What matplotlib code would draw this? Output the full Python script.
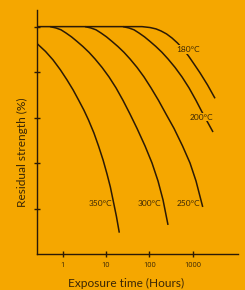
import matplotlib
matplotlib.use("Agg")
import matplotlib.pyplot as plt

# ---- data ----
temps = ["350°C", "300°C", "250°C", "200°C", "180°C"]

hours_350 = [0.251, 0.401, 0.597, 0.885, 1.256, 1.738, 2.317, 3.069, 3.936,
             5.248, 6.699, 8.551, 10.52, 12.56, 14.49, 17.34, 20.23]
strength_350 = [92.7, 89.1, 85.4, 81.0, 76.6, 72.2, 67.8, 63.4, 59.0,
                53.3, 47.6, 41.4, 35.3, 29.6, 23.9, 16.7, 9.5]

hours_300 = [0.509, 0.700, 0.914, 1.192, 1.596, 2.138, 2.910, 4.046, 5.567,
             8.072, 11.71, 16.99, 24.64, 35.74, 51.86, 79.32, 115.1, 158.3,
             206.5, 269.3]
strength_300 = [100.0, 99.4, 98.6, 97.2, 95.5, 93.5, 91.3, 88.7, 85.8,
                82.1, 77.9, 73.1, 67.6, 61.6, 55.3, 47.6, 40.1, 32.2,
                23.9, 12.9]

hours_250 = [3.272, 4.499, 5.868, 7.655, 10.25, 13.73, 18.70, 25.98, 35.74,
             51.86, 75.21, 109.1, 162.6, 242.2, 370.4, 582.1, 867.0, 1192,
             1703]
strength_250 = [100.0, 99.4, 98.6, 97.2, 95.5, 93.5, 91.3, 88.7, 85.8,
                82.1, 77.9, 73.1, 67.6, 61.6, 55.3, 47.6, 40.1, 32.2, 20.8]

hours_200 = [24.64, 33.89, 44.21, 57.66, 77.26, 103.5, 140.8, 195.7, 269.3,
             390.6, 566.6, 822.0, 1192, 1640, 2197, 2943]
strength_200 = [100.0, 99.4, 98.6, 97.2, 95.5, 93.5, 91.3, 88.7, 85.8,
                82.1, 77.9, 73.1, 67.6, 62.5, 58.1, 53.7]

hours_180 = [0.251, 67.65, 103.5, 142.3, 185.6, 248.7, 333.1, 446.2, 597.5,
             800.5, 1072, 1475, 2197, 3273]
strength_180 = [100.0, 100.0, 99.6, 99.0, 98.1, 96.8, 95.0, 92.8, 90.2,
                87.1, 83.6, 79.7, 74.4, 68.5]

# label anchor points (hours, strength)
label_hours = [7.26, 98.2, 780, 1556, 780]
label_strength = [22.1, 22.1, 22.1, 60.3, 90.0]

x_ticks = [1, 10, 100, 1000]
x_tick_labels = ["1", "10", "100", "1000"]
y_ticks = [20, 40, 60, 80, 100]

# ---- style ----
BG = "#F5A700"
INK = "#2b1a06"
TXT = "#3a2606"
FONT = ["Lato", "DejaVu Sans"]

fig = plt.figure(figsize=(2.45, 2.90), dpi=100, facecolor=BG)
ax = fig.add_axes([0.1498, 0.1231, 0.9714 - 0.1498, 0.9655 - 0.1231])
ax.set_facecolor(BG)

series = [(hours_350, strength_350), (hours_300, strength_300),
          (hours_250, strength_250), (hours_200, strength_200),
          (hours_180, strength_180)]
for h, s in series:
    ax.plot(h, s, color=INK, lw=1.1, solid_capstyle="butt",
            solid_joinstyle="round", zorder=2)

for i, t in enumerate(temps):
    kw = {}
    if t in ("200°C", "180°C"):
        kw["bbox"] = dict(boxstyle="square,pad=0.1", fc=BG, ec="none")
    ax.text(label_hours[i], label_strength[i], t, ha="center", va="center",
            fontsize=6, color=TXT, family=FONT, zorder=3, **kw)

ax.set_xscale("log")
ax.set_xlim(0.251, 11100)
ax.set_ylim(0, 107.3)

ax.set_xticks(x_ticks)
ax.set_xticklabels(x_tick_labels)
ax.minorticks_off()
ax.set_yticks(y_ticks)
ax.set_yticklabels([])

for side in ("top", "right"):
    ax.spines[side].set_visible(False)
for side in ("left", "bottom"):
    ax.spines[side].set_color(INK)
    ax.spines[side].set_linewidth(1.0)

ax.tick_params(axis="both", direction="inout", length=4.5, width=1.0,
               color=INK, labelcolor=TXT)
ax.tick_params(axis="x", pad=3, labelsize=5.3)
for lab in ax.get_xticklabels():
    lab.set_family(["Open Sans", "DejaVu Sans"])

fig.text(126 / 245, 1 - 283 / 290, "Exposure time (Hours)", ha="center",
         va="center", fontsize=8.6, color=TXT, family=FONT)
fig.text(22.5 / 245, 1 - 152.5 / 290, "Residual strength (%)", ha="center",
         va="center", rotation=90, fontsize=8.6, color=TXT, family=FONT)

fig.savefig("out.png", dpi=100, facecolor=BG)
